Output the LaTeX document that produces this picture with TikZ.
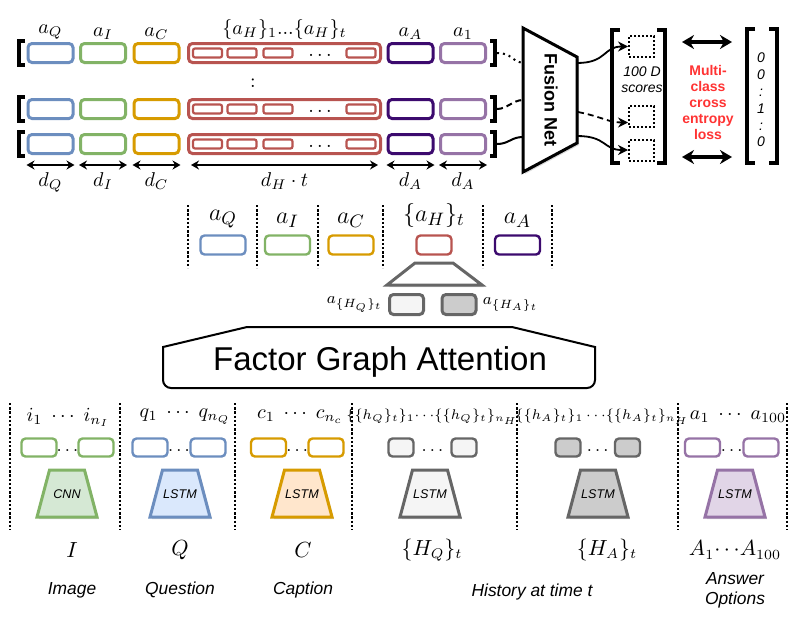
\documentclass[tikz,border=0pt]{standalone}
\usepackage{fontspec}
\setsansfont{Liberation Sans}
\usetikzlibrary{arrows.meta,positioning,shadows}

\definecolor{colQ}{HTML}{6C8EBF}
\definecolor{colI}{HTML}{82B366}
\definecolor{colC}{HTML}{D79B00}
\definecolor{colH}{HTML}{B85450}
\definecolor{colA}{HTML}{3C0A6E}
\definecolor{colO}{HTML}{9673A6}
\definecolor{colG}{HTML}{666666}
\definecolor{fillI}{HTML}{D5E8D4}
\definecolor{fillQ}{HTML}{DAE8FC}
\definecolor{fillC}{HTML}{FFE6CC}
\definecolor{fillHQ}{HTML}{F5F5F5}
\definecolor{fillHA}{HTML}{CCCCCC}
\definecolor{fillO}{HTML}{E1D5E7}
\definecolor{lossred}{HTML}{FF3333}

\begin{document}
\begin{tikzpicture}[
    x=0.5pt, y=-0.5pt,
    vec/.style={draw=#1, line width=1.5pt, rounded corners=2pt, inner sep=0pt, minimum width=22.5pt, minimum height=9.5pt},
    slot/.style={draw=colH, line width=1.1pt, rounded corners=1pt, inner sep=0pt, minimum width=14.5pt, minimum height=4.5pt},
    mvec/.style={vec=#1, line width=1.2pt},
    svec/.style={vec=#1, line width=1.2pt, minimum width=17.5pt, minimum height=9pt},
    score/.style={draw, line width=1pt, dash pattern=on 1pt off 1pt, inner sep=0pt, minimum width=12.5pt, minimum height=10.5pt},
    lab/.style={inner sep=1pt, font=\fontsize{10}{12}\selectfont},
    mlab/.style={inner sep=1pt, font=\fontsize{13}{15}\selectfont},
    brk/.style={line width=1.6pt},
    dimarrow/.style={{Stealth[length=4pt,width=4.5pt]}-{Stealth[length=4pt,width=4.5pt]}, line width=0.8pt},
    bidir/.style={{Stealth[length=6pt,width=7pt]}-{Stealth[length=6pt,width=7pt]}, line width=1.6pt},
    link/.style={line width=0.9pt, -{Stealth[length=5pt,width=5pt]}},
    divider/.style={line width=1.4pt, dash pattern=on 1.2pt off 0.9pt},
    net/.style={draw=#1, line width=1.5pt, drop shadow={shadow xshift=1pt, shadow yshift=-1pt, opacity=0.3}},
    nettext/.style={inner sep=0pt, font=\sffamily\itshape\fontsize{6.3}{7}\selectfont},
    srclab/.style={align=center, font=\sffamily\itshape\fontsize{8.7}{10}\selectfont},
    ]
\useasboundingbox (0,0) rectangle (795,622);

% concatenated input rows
\foreach \r/\y in {1/53, 2/109, 3/144} {
  \node[vec=colQ] (q\r) at (50.5,\y) {};
  \node[vec=colI] (i\r) at (103,\y) {};
  \node[vec=colC] (c\r) at (156.5,\y) {};
  \node[vec=colH, minimum width=96pt] (h\r) at (284.5,\y) {};
  \foreach \s/\x in {1/207.5, 2/242, 3/278, 4/361}
    \node[slot] (h\r\s) at (\x,\y) {};
  \node[lab] (hd\r) at (320,\y+2) {$\dots$};
  \node[vec=colA] (a\r) at (410.5,\y) {};
  \node[vec=colO] (o\r) at (463,\y) {};
  \draw[brk] (25,\y-12) -- (19,\y-12) -- (19,\y+12) -- (25,\y+12);
  \draw[brk] (490,\y-12) -- (495,\y-12) -- (495,\y+12) -- (490,\y+12);
  \coordinate (e\r) at (497,\y);
}
\node[lab] (vd) at (253,83) {:};

\node[lab, above=0pt of q1] (lq) {$a_Q$};
\node[lab, above=0pt of i1] (li) {$a_I$};
\node[lab, above=0pt of c1] (lc) {$a_C$};
\node[lab, above=0pt of h1] (lh) {$\{a_H\}_1{...}\{a_H\}_t$};
\node[lab, above=0pt of a1] (la) {$a_A$};
\node[lab, above=0pt of o1] (lo) {$a_1$};

\draw[dimarrow] ([yshift=-5pt]q3.south west) -- node[lab, below=2.5pt] {$d_Q$} ([yshift=-5pt]q3.south east);
\draw[dimarrow] ([yshift=-5pt]i3.south west) -- node[lab, below=2.5pt] {$d_I$} ([yshift=-5pt]i3.south east);
\draw[dimarrow] ([yshift=-5pt]c3.south west) -- node[lab, below=2.5pt] {$d_C$} ([yshift=-5pt]c3.south east);
\draw[dimarrow] ([yshift=-5pt,xshift=2pt]h3.south west) -- node[lab, below=2.5pt] {$d_H\cdot t$} ([yshift=-5pt,xshift=-2pt]h3.south east);
\draw[dimarrow] ([yshift=-5pt]a3.south west) -- node[lab, below=2.5pt] {$d_A$} ([yshift=-5pt]a3.south east);
\draw[dimarrow] ([yshift=-5pt]o3.south west) -- node[lab, below=2.5pt] {$d_A$} ([yshift=-5pt]o3.south east);

% fusion net
\draw[line width=1.5pt, fill=white, drop shadow={shadow xshift=1pt, shadow yshift=-1pt, opacity=0.3}]
  (523,28) -- (577,57) -- (577,143) -- (523,172) -- cycle;
\node[rotate=-90, font=\sffamily\bfseries\fontsize{9}{10}\selectfont] (fuse) at (551,100) {Fusion Net};
\coordinate (fi1) at (523,63);
\coordinate (fi2) at (523,100);
\coordinate (fi3) at (523,137);
\coordinate (fo1) at (577,63);
\coordinate (fo2) at (578,112);
\coordinate (fo3) at (577,136);
\draw[line width=1pt, dotted] (e1) .. controls +(15,0) and +(-12,-2) .. (fi1);
\draw[line width=1pt, dash pattern=on 3pt off 2pt] (e2) .. controls +(10,0) and +(-10,0) .. (fi2);
\draw[line width=1pt] (e3) .. controls +(12,0) and +(-12,0) .. (fi3);

% scores
\node[score] (s1) at (641.5,46.5) {};
\node[score] (s2) at (641.5,116.5) {};
\node[score] (s3) at (641.5,150) {};
\draw[brk] (620,30) -- (612,30) -- (612,163) -- (620,163);
\draw[brk] (657,30) -- (665,30) -- (665,163) -- (657,163);
\node[align=center, inner sep=0pt, font=\sffamily\itshape\fontsize{7}{8}\selectfont] (sc) at (642,80) {100 D\\scores};
\draw[link] (fo1) .. controls +(30,0) and +(-25,0) .. (s1.west);
\draw[link, dash pattern=on 3pt off 2pt] (fo2) .. controls +(25,5) and +(-20,0) .. ([yshift=-3pt]s2.west);
\draw[link] (fo3) .. controls +(30,0) and +(-25,0) .. (s3.west);

% loss
\coordinate (l1) at (682,42);
\coordinate (r1) at (732,42);
\coordinate (l2) at (682,157);
\coordinate (r2) at (732,157);
\draw[bidir] (l1) -- (r1);
\draw[bidir] (l2) -- (r2);
\node[align=center, inner sep=0pt, text=lossred, font=\sffamily\bfseries\fontsize{7}{8}\selectfont] (loss) at (708,102) {Multi-\\class\\cross\\entropy\\loss};
\draw[brk] (755,29) -- (747,29) -- (747,163) -- (755,163);
\draw[brk] (769,29) -- (777,29) -- (777,163) -- (769,163);
\node[align=center, inner sep=0pt, font=\sffamily\itshape\fontsize{7}{8.4}\selectfont] (gt) at (761,100) {0\\0\\:\\1\\:\\0};

% single turn slots
\foreach \x in {188,257,318,383,483,552}
  \draw[divider] (\x,205) -- (\x,268);
\node[mvec=colQ] (mq) at (223,245) {};
\node[mvec=colI] (mi) at (287.5,245) {};
\node[mvec=colC] (mc) at (351,245) {};
\node[mvec=colH, minimum width=17.5pt] (mh) at (434,245) {};
\node[mvec=colA] (ma) at (517.5,245) {};
\node[mlab, above=2pt of mq] (lmq) {$a_Q$};
\node[mlab, above=2pt of mi] (lmi) {$a_I$};
\node[mlab, above=2pt of mc] (lmc) {$a_C$};
\node[mlab, above=2pt of mh] (lmh) {$\{a_H\}_t$};
\node[mlab, above=2pt of ma] (lma) {$a_A$};

\draw[net=colG, fill=white] (415,263) -- (453,263) -- (482,285) -- (387,285) -- cycle;
\node[vec=colG, fill=fillHQ, minimum width=17pt, minimum height=10pt] (gq) at (406.5,304.5) {};
\node[vec=colG, fill=fillHA, minimum width=17pt, minimum height=10pt] (ga) at (459,304.5) {};
\node[lab, left=1.5pt of gq, font=\fontsize{8.5}{10}\selectfont] (lgq) {$a_{\{H_Q\}_t}$};
\node[lab, right=1.5pt of ga, font=\fontsize{8.5}{10}\selectfont] (lga) {$a_{\{H_A\}_t}$};

% factor graph attention
\draw[line width=1pt] (163,370) -- (163,347) -- (247,327) -- (512,327) -- (595,347) -- (595,370)
  [rounded corners=4pt] -- (595,388) -- (163,388) -- cycle;
\node[font=\sffamily\fontsize{16.5}{18}\selectfont] (fga) at (380,362) {Factor Graph Attention};

% utilities
\foreach \x in {10,120,235,352,517,678,787}
  \draw[divider] (\x,403) -- (\x,530);

\foreach \n/\xa/\xb/\xt/\w/\dc/\bc/\fc/\net in {
    img/39/96/67/17.5pt/colI/white/fillI/CNN,
    que/150/208/180/17.5pt/colQ/white/fillQ/LSTM,
    cap/268.5/326/302/17.5pt/colC/white/fillC/LSTM,
    hq/401/464/430/12.5pt/colG/fillHQ/fillHQ/LSTM,
    ha/568/627.5/598/12.5pt/colG/fillHA/fillHA/LSTM,
    ans/702.5/761/735/17.5pt/colO/white/fillO/LSTM}
{
  \node[svec=\dc, fill=\bc, minimum width=\w] (\n-first) at (\xa,447.5) {};
  \node[svec=\dc, fill=\bc, minimum width=\w] (\n-last) at (\xb,447.5) {};
  \node[lab, font=\fontsize{9}{11}\selectfont] (\n-dots) at ({(\xa+\xb)/2},451) {$\dots$};
  \draw[net=\dc, fill=\fc] (\xt-17.5,470) -- (\xt+17.5,470) -- (\xt+30,517) -- (\xt-30,517) -- cycle;
  \node[nettext] (\n-net) at (\xt,494) {\net};
}

\node[lab] (ti) at (68,417) {$i_1\;\cdots\;i_{n_I}$};
\node[lab] (tq) at (185,417) {$q_1\;\cdots\;q_{n_Q}$};
\node[lab] (tc) at (300,417) {$c_1\;\cdots\;c_{n_c}$};
\node[lab, inner sep=0pt, font=\fontsize{7.2}{9}\selectfont] (thq) at (432,417) {$\{\{h_Q\}_t\}_1{\cdots}\{\{h_Q\}_t\}_{n_H}$};
\node[lab, inner sep=0pt, font=\fontsize{7.2}{9}\selectfont] (tha) at (602,417) {$\{\{h_A\}_t\}_1\,{\cdots}\{\{h_A\}_t\}_{n_H}$};
\node[lab] (ta) at (738,417) {$a_1\;\cdots\;a_{100}$};

\node[lab, font=\fontsize{10.5}{12}\selectfont] (bi) at (72,550) {$I$};
\node[lab, font=\fontsize{10.5}{12}\selectfont] (bq) at (180,550) {$Q$};
\node[lab, font=\fontsize{10.5}{12}\selectfont] (bc) at (303,550) {$C$};
\node[lab, font=\fontsize{10.5}{12}\selectfont] (bhq) at (432,550) {$\{H_Q\}_t$};
\node[lab, font=\fontsize{10.5}{12}\selectfont] (bha) at (607,550) {$\{H_A\}_t$};
\node[lab, font=\fontsize{10.5}{12}\selectfont] (bans) at (735,550) {$A_1{\cdots}A_{100}$};

\node[srclab] (nimg) at (72,590) {Image};
\node[srclab] (nque) at (180,590) {Question};
\node[srclab] (ncap) at (303,590) {Caption};
\node[srclab] (nhis) at (532,592) {History at time t};
\node[srclab] (nans) at (735,590) {Answer\\Options};
\end{tikzpicture}
\end{document}
